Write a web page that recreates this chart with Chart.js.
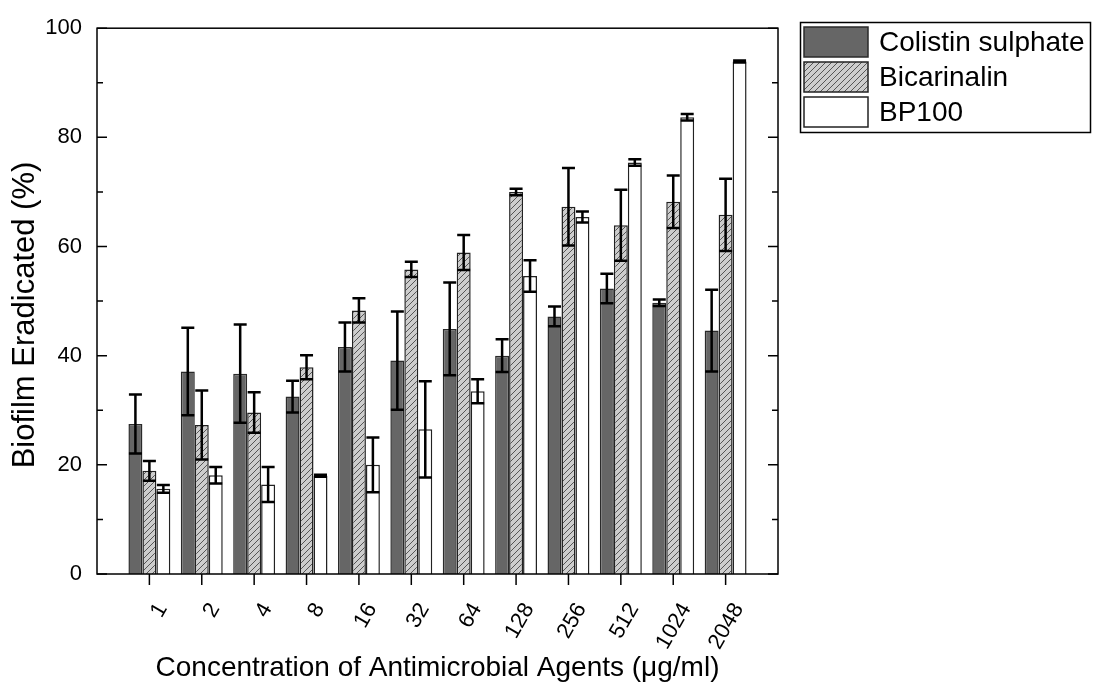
<!DOCTYPE html>
<html>
<head>
<meta charset="utf-8">
<script src="https://cdn.jsdelivr.net/npm/chart.js@4.4.1/dist/chart.umd.min.js"></script>
<style>
  html, body { margin: 0; padding: 0; background: #fff; }
  #wrap { width: 1093px; height: 688px; position: relative; }
</style>
</head>
<body>
<div id="wrap"><canvas id="chart"></canvas></div>
<script>
const concentrations = ["1", "2", "4", "8", "16", "32", "64", "128", "256", "512", "1024", "2048"];

const colistin = [27.5, 37.1, 36.7, 32.5, 41.6, 39.1, 44.9, 40.0, 47.2, 52.3, 49.7, 44.6];
const colistinErr = [5.4, 8.0, 9.0, 2.9, 4.5, 9.0, 8.5, 3.0, 1.8, 2.7, 0.6, 7.5];

const bicarinalin = [18.9, 27.3, 29.6, 37.9, 48.3, 55.8, 58.9, 70.0, 67.3, 63.9, 68.2, 65.8];
const bicarinalinErr = [1.8, 6.3, 3.7, 2.2, 2.2, 1.4, 3.2, 0.6, 7.1, 6.5, 4.8, 6.6];

const bp100 = [15.6, 18.1, 16.4, 18.0, 20.0, 26.5, 33.5, 54.6, 65.4, 75.4, 83.7, 93.9];
const bp100Err = [0.7, 1.5, 3.2, 0.2, 5.0, 8.8, 2.2, 2.9, 1.0, 0.6, 0.6, 0.2];

const yTicks = [0, 20, 40, 60, 80, 100];

// the axis leaves one empty slot on each side of the groups
const pad = (arr) => [null, ...arr, null];

Chart.defaults.font.family = "'Liberation Sans', Arial, sans-serif";
Chart.defaults.color = "#000";

const ctx = document.getElementById("chart").getContext("2d");

function hatchPattern() {
  const c = document.createElement("canvas");
  c.width = 6;
  c.height = 6;
  const g = c.getContext("2d");
  g.fillStyle = "#cdcdcd";
  g.fillRect(0, 0, 6, 6);
  g.strokeStyle = "#555";
  g.lineWidth = 1;
  g.beginPath();
  g.moveTo(0, 6);
  g.lineTo(6, 0);
  g.moveTo(-1, 1);
  g.lineTo(1, -1);
  g.moveTo(5, 7);
  g.lineTo(7, 5);
  g.stroke();
  return ctx.createPattern(c, "repeat");
}

const errors = [colistinErr, bicarinalinErr, bp100Err];

const errorBars = {
  id: "errorBars",
  afterDatasetsDraw(chart) {
    const c = chart.ctx;
    const y = chart.scales.y;
    c.save();
    c.strokeStyle = "#000";
    c.lineCap = "butt";
    c.lineWidth = 2.5;
    chart.data.datasets.forEach((ds, i) => {
      const meta = chart.getDatasetMeta(i);
      const err = pad(errors[i]);
      meta.data.forEach((bar, j) => {
        const v = ds.data[j];
        if (v == null) return;
        const top = y.getPixelForValue(v + err[j]);
        const bot = y.getPixelForValue(v - err[j]);
        c.beginPath();
        c.moveTo(bar.x, top);
        c.lineTo(bar.x, bot);
        c.moveTo(bar.x - 6.5, top);
        c.lineTo(bar.x + 6.5, top);
        c.moveTo(bar.x - 6.5, bot);
        c.lineTo(bar.x + 6.5, bot);
        c.stroke();
      });
    });
    c.restore();
  },
};

// box, inward y ticks, outward x ticks, rotated x labels, y title and the framed legend
const frame = {
  id: "frame",
  afterDraw(chart) {
    const c = chart.ctx;
    const a = chart.chartArea;
    const x = chart.scales.x;
    const y = chart.scales.y;
    c.save();
    c.strokeStyle = "#000";
    c.lineWidth = 1.5;
    c.strokeRect(a.left, a.top, a.right - a.left, a.bottom - a.top);

    for (let v = 0; v <= 100; v += 10) {
      const py = y.getPixelForValue(v);
      const len = v % 20 === 0 ? 10 : 6;
      c.beginPath();
      c.moveTo(a.left, py);
      c.lineTo(a.left + len, py);
      c.moveTo(a.right, py);
      c.lineTo(a.right - len, py);
      c.stroke();
    }

    c.font = "22px 'Liberation Sans', Arial, sans-serif";
    c.fillStyle = "#000";
    c.textAlign = "right";
    c.textBaseline = "middle";
    concentrations.forEach((lab, i) => {
      const px = x.getPixelForValue(i + 1);
      c.beginPath();
      c.moveTo(px, a.bottom);
      c.lineTo(px, a.bottom + 11);
      c.stroke();
      c.save();
      c.translate(px + 13, a.bottom + 31);
      c.rotate(-Math.PI / 3);
      c.fillText(lab, 0, 0);
      c.restore();
    });

    c.save();
    c.font = "31px 'Liberation Sans', Arial, sans-serif";
    c.textAlign = "center";
    c.translate(25, 315);
    c.rotate(-Math.PI / 2);
    c.fillText("Biofilm Eradicated (%)", 0, 0);
    c.restore();

    // legend
    c.lineWidth = 1.5;
    c.strokeRect(800.5, 22.5, 290, 110);
    c.font = "28px 'Liberation Sans', Arial, sans-serif";
    c.textAlign = "left";
    chart.data.datasets.forEach((ds, i) => {
      const top = 27 + i * 35;
      c.fillStyle = ds.backgroundColor;
      c.fillRect(804, top, 64, 30);
      c.strokeStyle = ds.borderColor;
      c.strokeRect(804, top, 64, 30);
      c.fillStyle = "#000";
      c.fillText(ds.label, 879, top + 16);
    });
    c.restore();
  },
};

new Chart(ctx, {
  type: "bar",
  data: {
    labels: ["", ...concentrations, ""],
    datasets: [
      {
        label: "Colistin sulphate",
        data: pad(colistin),
        backgroundColor: "#666666",
        borderColor: "#2a2a2a",
        borderWidth: 1.5,
      },
      {
        label: "Bicarinalin",
        data: pad(bicarinalin),
        backgroundColor: hatchPattern(),
        borderColor: "#222",
        borderWidth: 1.5,
      },
      {
        label: "BP100",
        data: pad(bp100),
        backgroundColor: "#ffffff",
        borderColor: "#222",
        borderWidth: 1.5,
      },
    ],
  },
  options: {
    responsive: true,
    maintainAspectRatio: false,
    animation: false,
    categoryPercentage: 0.8,
    barPercentage: 1.0,
    layout: { padding: { top: 25, right: 315, left: 0, bottom: 0 } },
    plugins: {
      legend: { display: false },
      tooltip: { enabled: false },
    },
    scales: {
      x: {
        offset: false,
        grid: { display: false },
        border: { display: false },
        ticks: { display: false },
        title: {
          display: true,
          text: "Concentration of Antimicrobial Agents (μg/ml)",
          font: { size: 28 },
          padding: { top: 0, bottom: 3 },
        },
        afterFit: (s) => { s.height = 114; },
      },
      y: {
        min: 0,
        max: 100,
        grid: { display: false, drawTicks: false },
        border: { display: false },
        afterBuildTicks: (s) => { s.ticks = yTicks.map((v) => ({ value: v })); },
        ticks: { padding: 15, font: { size: 22 } },
        afterFit: (s) => { s.width = 97; },
      },
    },
  },
  plugins: [errorBars, frame],
});
</script>
</body>
</html>
